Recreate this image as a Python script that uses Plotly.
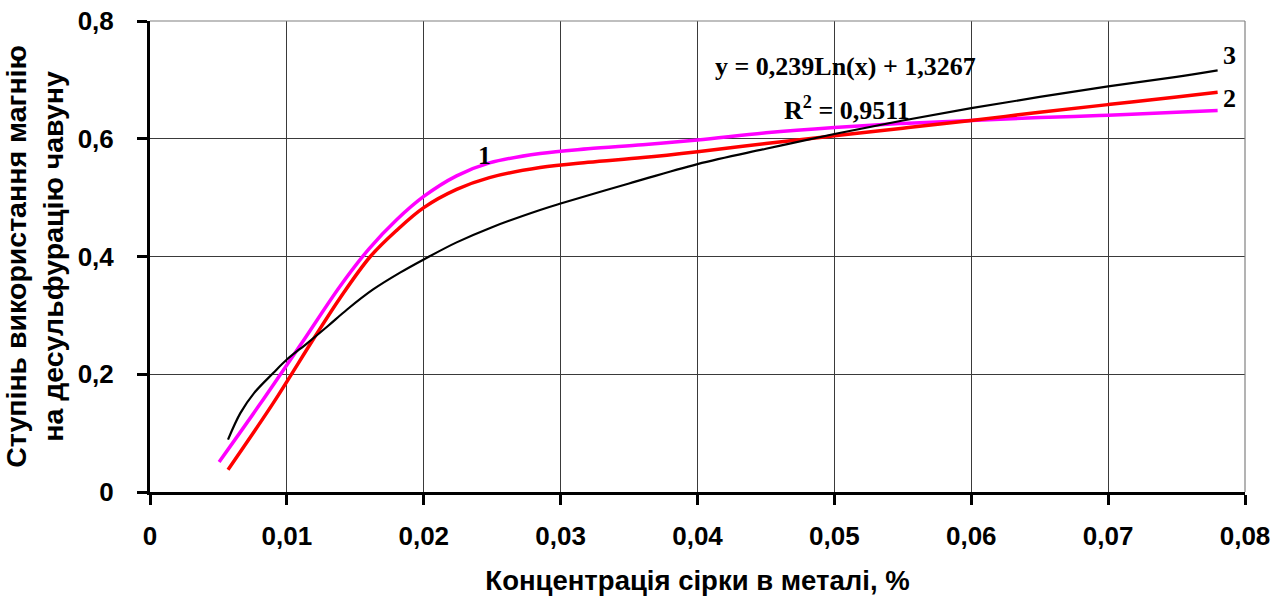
import plotly.graph_objects as go

# ---- data ----
x1 = [0.00505, 0.0080, 0.0110, 0.0139, 0.0160, 0.0180, 0.0200, 0.0224, 0.0248,
      0.0285, 0.0320, 0.0360, 0.0400, 0.0450, 0.0500, 0.0550, 0.0600, 0.0650, 0.0700, 0.0750, 0.0780]
y1 = [0.051, 0.148, 0.250, 0.350, 0.413, 0.462, 0.502, 0.537, 0.559,
      0.575, 0.583, 0.590, 0.598, 0.610, 0.619, 0.626, 0.631, 0.636, 0.640, 0.645, 0.648]

x2 = [0.0057, 0.0090, 0.0120, 0.0139, 0.0161, 0.0180, 0.0200, 0.0224, 0.0248,
      0.0285, 0.0320, 0.0360, 0.0400, 0.0450, 0.0500, 0.0550, 0.0600, 0.0650, 0.0700, 0.0750, 0.0780]
y2 = [0.038, 0.151, 0.262, 0.330, 0.400, 0.444, 0.483, 0.514, 0.534,
      0.551, 0.560, 0.568, 0.578, 0.592, 0.605, 0.618, 0.631, 0.645, 0.658, 0.671, 0.679]

x3 = [0.0057, 0.0066, 0.0076, 0.0090, 0.0100, 0.0115, 0.0130, 0.0144, 0.0163, 0.0183, 0.0200,
      0.0224, 0.0249, 0.0285, 0.0300, 0.0350, 0.0400, 0.0450, 0.0500, 0.0550, 0.0600, 0.0650,
      0.0700, 0.0750, 0.0780]
y3 = [0.089, 0.134, 0.168, 0.202, 0.225, 0.253, 0.282, 0.310, 0.344, 0.373, 0.395,
      0.424, 0.449, 0.479, 0.490, 0.524, 0.557, 0.583, 0.608, 0.631, 0.652, 0.671,
      0.689, 0.705, 0.716]

x_tickvals = [0, 0.01, 0.02, 0.03, 0.04, 0.05, 0.06, 0.07, 0.08]
x_ticktext = ["0", "0,01", "0,02", "0,03", "0,04", "0,05", "0,06", "0,07", "0,08"]
y_tickvals = [0, 0.2, 0.4, 0.6, 0.8]
y_ticktext = ["0", "0,2", "0,4", "0,6", "0,8"]

curve_labels = ["1", "2", "3"]
label_pos = [(0.02447, 0.572), (0.0789, 0.669), (0.0789, 0.742)]

eq_text = "y = 0,239Ln(x) + 1,3267"
r2_text = "R<sup>2</sup> = 0,9511"

x_title = "Концентрація сірки в металі, %"
y_title = "Ступінь використання магнію<br>на десульфурацію чавуну"

SANS = "Liberation Sans, Arial, sans-serif"
SERIF = "Liberation Serif, Times New Roman, serif"

fig = go.Figure()
fig.add_trace(go.Scatter(x=x1, y=y1, mode="lines", line=dict(color="#FF00FF", width=3.5, shape="spline"),
                         showlegend=False))
fig.add_trace(go.Scatter(x=x2, y=y2, mode="lines", line=dict(color="#FF0000", width=3.5, shape="spline"),
                         showlegend=False))
fig.add_trace(go.Scatter(x=x3, y=y3, mode="lines", line=dict(color="#000000", width=2.2, shape="spline"),
                         showlegend=False))

for t, (lx, ly) in zip(curve_labels, label_pos):
    fig.add_annotation(x=lx, y=ly, text="<b>" + t + "</b>", showarrow=False, xanchor="center", yanchor="middle",
                       font=dict(family=SERIF, size=26, color="black"))

fig.add_annotation(x=0.0508, y=0.722, text="<b>" + eq_text + "</b>", showarrow=False,
                   xanchor="center", yanchor="middle",
                   font=dict(family=SERIF, size=26, color="black"))
fig.add_annotation(x=0.0509, y=0.652, text="<b>" + r2_text + "</b>", showarrow=False,
                   xanchor="center", yanchor="middle",
                   font=dict(family=SERIF, size=26, color="black"))

# top and right border (thin gray)
fig.add_shape(type="line", xref="paper", yref="paper", x0=0, x1=1, y0=1, y1=1,
              line=dict(color="#808080", width=1.2))
fig.add_shape(type="line", xref="paper", yref="paper", x0=1, x1=1, y0=0, y1=1,
              line=dict(color="#808080", width=1.2))

fig.update_xaxes(range=[0, 0.08], tickvals=x_tickvals, ticktext=x_ticktext,
                 showgrid=True, gridcolor="#3a3a3a", gridwidth=1,
                 showline=True, linecolor="black", linewidth=3,
                 ticks="outside", ticklen=10, tickwidth=3, tickcolor="black",
                 ticklabelstandoff=9,
                 tickfont=dict(family=SANS, size=26, color="black", weight="bold"),
                 zeroline=False,
                 title=dict(text="<b>" + x_title + "</b>", standoff=21,
                            font=dict(family=SANS, size=27.5, color="black")))
fig.update_yaxes(range=[0, 0.8], tickvals=y_tickvals, ticktext=y_ticktext,
                 showgrid=True, gridcolor="#3a3a3a", gridwidth=1,
                 showline=True, linecolor="black", linewidth=3,
                 ticks="outside", ticklen=10, tickwidth=3, tickcolor="black",
                 ticklabelstandoff=18,
                 tickfont=dict(family=SANS, size=26, color="black", weight="bold"),
                 zeroline=False,
                 title=dict(text="<b>" + y_title + "</b>", standoff=12,
                            font=dict(family=SANS, size=28.5, color="black")))

fig.update_layout(width=1275, height=596, margin=dict(l=150, r=30, t=21, b=104, autoexpand=False),
                  plot_bgcolor="white", paper_bgcolor="white")

fig.write_html("out.html")
